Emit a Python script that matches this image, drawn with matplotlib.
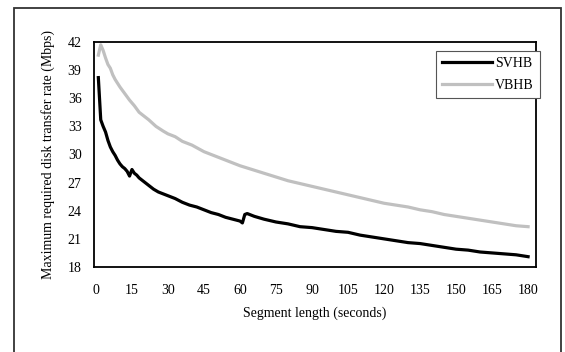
"""Maximum required disk transfer rate vs segment length (SVHB vs VBHB)."""
import matplotlib

matplotlib.use("Agg")
import matplotlib.pyplot as plt
from matplotlib.patches import Rectangle

plt.rcParams.update(
    {
        "font.family": ["Liberation Serif", "DejaVu Serif"],
        "font.size": 10,
    }
)

# values
svhb_x = [1, 2, 3, 4, 5, 6, 7, 8, 9, 10, 11, 12, 13, 14, 15, 16, 17, 18, 20, 22,
          24, 26, 28, 30, 33, 36, 39, 42, 45, 48, 51, 54, 57, 60, 61, 62, 63, 66,
          70, 75, 80, 85, 90, 95, 100, 105, 110, 115, 120, 125, 130, 135, 140,
          145, 150, 155, 160, 165, 170, 175, 180]
svhb_y = [38.2, 33.7, 33.0, 32.4, 31.5, 30.8, 30.3, 29.9, 29.4, 29.0, 28.7, 28.5,
          28.2, 27.7, 28.4, 28.0, 27.8, 27.5, 27.1, 26.7, 26.3, 26.0, 25.8, 25.6,
          25.3, 24.9, 24.6, 24.4, 24.1, 23.8, 23.6, 23.3, 23.1, 22.9, 22.7, 23.6,
          23.7, 23.4, 23.1, 22.8, 22.6, 22.3, 22.2, 22.0, 21.8, 21.7, 21.4, 21.2,
          21.0, 20.8, 20.6, 20.5, 20.3, 20.1, 19.9, 19.8, 19.6, 19.5, 19.4, 19.3,
          19.1]

vbhb_x = [1, 2, 3, 4, 5, 6, 7, 8, 10, 12, 14, 16, 18, 20, 22, 25, 28, 30, 33, 36,
          40, 45, 50, 55, 60, 65, 70, 75, 80, 85, 90, 95, 100, 105, 110, 115, 120,
          125, 130, 135, 140, 145, 150, 155, 160, 165, 170, 175, 180]
vbhb_y = [40.6, 41.7, 41.1, 40.3, 39.6, 39.2, 38.5, 38.0, 37.2, 36.5, 35.8, 35.2,
          34.5, 34.1, 33.7, 33.0, 32.5, 32.2, 31.9, 31.4, 31.0, 30.3, 29.8, 29.3,
          28.8, 28.4, 28.0, 27.6, 27.2, 26.9, 26.6, 26.3, 26.0, 25.7, 25.4, 25.1,
          24.8, 24.6, 24.4, 24.1, 23.9, 23.6, 23.4, 23.2, 23.0, 22.8, 22.6, 22.4,
          22.3]

x_ticks = list(range(0, 181, 15))
y_ticks = list(range(18, 43, 3))

fig = plt.figure(figsize=(5.65, 3.52), dpi=100)
ax = fig.add_axes([0.1664, 0.2415, 0.7823, 0.6392])

ax.plot(svhb_x, svhb_y, color="black", linewidth=2.3, label="SVHB")
ax.plot(vbhb_x, vbhb_y, color="#C0C0C0", linewidth=2.3, label="VBHB")

ax.set_xlim(-0.8, 183.3)
ax.set_ylim(18, 42)
ax.set_xticks(x_ticks)
ax.set_yticks(y_ticks)
ax.tick_params(length=0)
ax.tick_params(axis="x", pad=12)
ax.tick_params(axis="y", pad=9)
for s in ax.spines.values():
    s.set_linewidth(1.3)
    s.set_color("black")

ax.set_xlabel("Segment length (seconds)", labelpad=7)
ax.set_ylabel("Maximum required disk transfer rate (Mbps)", labelpad=9)

leg = ax.legend(
    loc="upper left",
    bbox_to_anchor=(436 / 565, 1 - 51 / 352),
    bbox_transform=fig.transFigure,
    borderaxespad=0,
    fancybox=False,
    framealpha=1,
    edgecolor="#555555",
    handlelength=3.6,
    handletextpad=0.2,
    borderpad=0.45,
    labelspacing=0.6,
    fontsize=10,
)
leg.get_frame().set_linewidth(0.8)
leg.set_zorder(5)

# outer chart frame (bottom edge runs off the image)
fig.patches.append(
    Rectangle((14 / 565, -0.1), 547 / 565, 1.1 - 8 / 352, transform=fig.transFigure,
              fill=False, edgecolor="#333333", linewidth=1.3)
)

fig.savefig("out.png", dpi=100, facecolor="white")
